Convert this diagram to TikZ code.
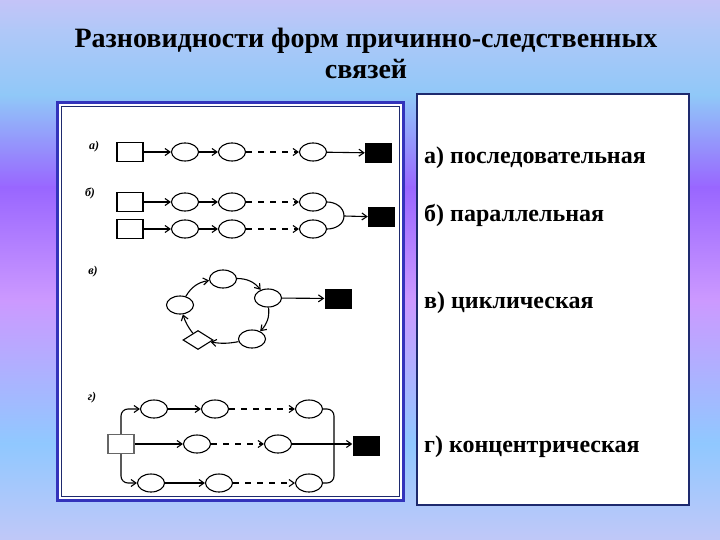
\documentclass[tikz,border=0pt]{standalone}
\usepackage{fontspec}
\setmainfont{Liberation Serif}
\usetikzlibrary{shapes.geometric,arrows.meta}
\definecolor{bgA}{HTML}{C4C4F8}
\definecolor{bgB}{HTML}{B0C8F8}
\definecolor{bgC}{HTML}{90C8F8}
\definecolor{bgD}{HTML}{9966FF}
\definecolor{bgE}{HTML}{CC99FF}
\definecolor{bgF}{HTML}{90C8FF}
\definecolor{bgG}{HTML}{C0C8F8}
\definecolor{frameblue}{HTML}{3333BB}
\definecolor{navy}{HTML}{1E2A6E}
\tikzset{
  ell/.style={ellipse,draw,line width=1.1pt,minimum width=27pt,minimum height=18pt,inner sep=0pt,fill=white},
  wsq/.style={rectangle,draw,line width=1.1pt,minimum width=26pt,minimum height=19pt,inner sep=0pt,fill=white},
  bsq/.style={rectangle,fill=black,minimum width=27pt,minimum height=20pt,inner sep=0pt},
  dia/.style={diamond,draw,line width=1.1pt,minimum width=30pt,minimum height=19pt,inner sep=0pt,fill=white},
  arr/.style={-{Straight Barb[length=5pt,width=7pt]},line width=1.1pt},
  darr/.style={arr,dash pattern=on 6pt off 6pt},
  ln/.style={line width=1.1pt},
  tag/.style={font=\fontsize{12}{12}\selectfont\bfseries\itshape,inner sep=0pt},
  lbl/.style={font=\fontsize{24}{28}\selectfont\bfseries,anchor=base west,inner sep=0pt},
}
\begin{document}
\begin{tikzpicture}[x=1pt,y=1pt]
\useasboundingbox (0,0) rectangle (720,-540);
% background gradient
\shade[top color=bgA,bottom color=bgB] (0,0) rectangle (720,-30.5);
\shade[top color=bgB,bottom color=bgC] (0,-30) rectangle (720,-95.5);
\shade[top color=bgC,bottom color=bgD] (0,-95) rectangle (720,-187.5);
\shade[top color=bgD,bottom color=bgE] (0,-187) rectangle (720,-300.5);
\shade[top color=bgE,bottom color=bgF] (0,-300) rectangle (720,-443.5);
\shade[top color=bgF,bottom color=bgG] (0,-443) rectangle (720,-540);
% title
\node[font=\fontsize{28}{31}\selectfont\bfseries,align=center,inner sep=0pt] (title) at (366,-53)
  {Разновидности форм причинно-следственных\\связей};
% boxes
\draw[frameblue,line width=3pt,fill=white] (57.5,-102.5) rectangle (403.5,-500.5);
\draw[navy,line width=0.8pt] (61.5,-106.5) rectangle (399.5,-496.5);
\draw[navy,line width=2pt,fill=white] (417,-94) rectangle (689,-505);
% right labels
\node[lbl] (la) at (424,-164) {а) последовательная};
\node[lbl] (lb) at (424,-222) {б) параллельная};
\node[lbl] (lc) at (424,-308) {в) циклическая};
\node[lbl] (ld) at (424,-452) {г) концентрическая};
% small tags
\node[tag] (ta) at (94,-147) {а)};
\node[tag] (tb) at (90,-193) {б)};
\node[tag] (tc) at (93,-272) {в)};
\node[tag] (td) at (92,-398) {г)};
% row a
\node[wsq] (a0) at (130,-152) {};
\node[ell] (a1) at (185,-152) {};
\node[ell] (a2) at (232,-152) {};
\node[ell] (a3) at (313,-152) {};
\node[bsq] (a4) at (378.5,-153) {};
\draw[arr] (a0) -- (a1);
\draw[arr] (a1) -- (a2);
\draw[darr] (a2) -- (a3);
\draw[arr] (a3) -- (a4);
% row b
\node[wsq] (b0) at (130,-202) {};
\node[ell] (b1) at (185,-202) {};
\node[ell] (b2) at (232,-202) {};
\node[ell] (b3) at (313,-202) {};
\node[wsq] (b4) at (130,-229) {};
\node[ell] (b5) at (185,-229) {};
\node[ell] (b6) at (232,-229) {};
\node[ell] (b7) at (313,-229) {};
\node[bsq] (b8) at (381.5,-217) {};
\coordinate (bj) at (344,-216);
\draw[arr] (b0) -- (b1);
\draw[arr] (b1) -- (b2);
\draw[darr] (b2) -- (b3);
\draw[arr] (b4) -- (b5);
\draw[arr] (b5) -- (b6);
\draw[darr] (b6) -- (b7);
\draw[ln] (b3.east) to[out=0,in=90] (bj);
\draw[ln] (b7.east) to[out=0,in=-90] (bj);
\draw[arr] (bj) -- (b8);
% row c (cycle)
\node[ell] (c1) at (223,-279) {};
\node[ell] (c2) at (268,-298) {};
\node[ell] (c3) at (252,-339) {};
\node[dia] (c4) at (198,-340) {};
\node[ell] (c5) at (180,-305) {};
\node[bsq] (c6) at (338,-298.5) {};
\draw[arr] (c5) to[bend left=25] (c1);
\draw[arr] (c1) to[bend left=25] (c2);
\draw[arr] (c2) to[bend left=25] (c3);
\draw[arr] (c3) to[bend left=10] (c4);
\draw[arr] (c4) to[bend left=10] (c5);
\draw[arr] (c2) -- (c6);
% row d (concentric)
\node[wsq,draw=black!60] (d0) at (121,-444) {};
\node[ell] (t1) at (154,-409) {};
\node[ell] (t2) at (215,-409) {};
\node[ell] (t3) at (309,-409) {};
\node[ell] (m1) at (197,-444) {};
\node[ell] (m2) at (278,-444) {};
\node[ell] (u1) at (151,-483) {};
\node[ell] (u2) at (219,-483) {};
\node[ell] (u3) at (309,-483) {};
\node[bsq] (dq) at (366,-446) {};
\coordinate (dj) at (334,-444);
\draw[arr,rounded corners=7pt] (d0.north) |- (t1.west);
\draw[arr,rounded corners=7pt] (d0.south) |- (u1.west);
\draw[arr] (d0.east) -- (m1.west);
\draw[arr] (t1) -- (t2);
\draw[darr] (t2) -- (t3);
\draw[darr] (m1) -- (m2);
\draw[arr] (m2.east) -- (m2.east -| dq.west);
\draw[arr] (u1) -- (u2);
\draw[darr] (u2) -- (u3);
\draw[ln,rounded corners=7pt] (t3.east) -| (dj);
\draw[ln,rounded corners=7pt] (u3.east) -| (dj);
\end{tikzpicture}
\end{document}
